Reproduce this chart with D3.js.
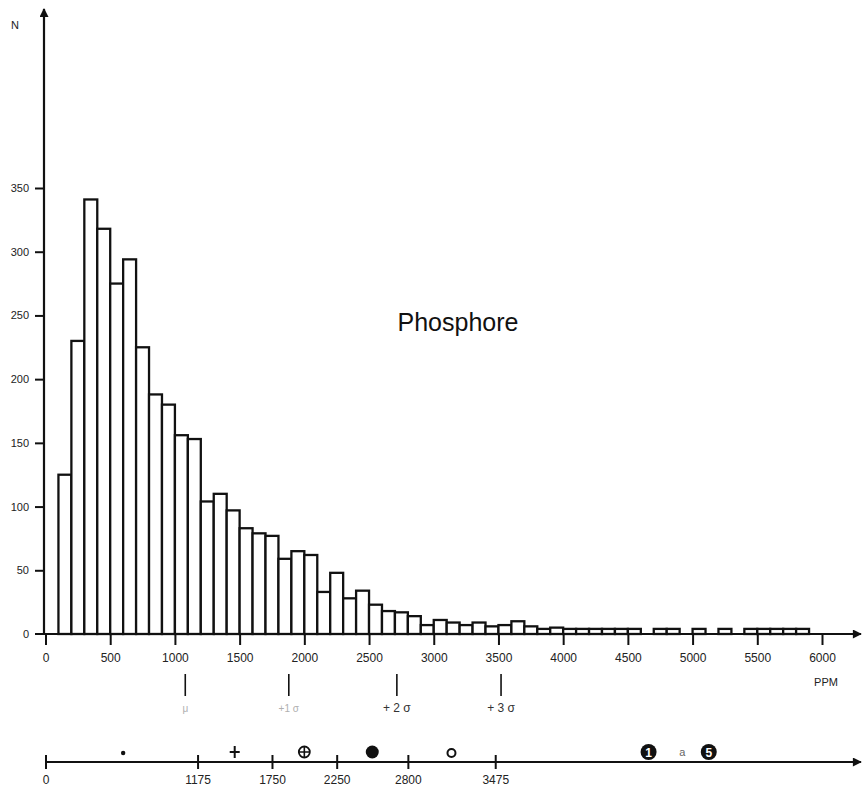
<!DOCTYPE html>
<html><head><meta charset="utf-8">
<script src="https://cdn.jsdelivr.net/npm/d3@7"></script>
<style>body{margin:0;background:#fff}svg{display:block}text{font-family:"Liberation Sans",Arial,sans-serif}</style>
</head><body><svg id="c" width="862" height="787"></svg>
<script>
// bins of 100 ppm: start of each bin
const binStarts = [100,200,300,400,500,600,700,800,900,1000,1100,1200,1300,1400,1500,1600,1700,1800,1900,2000,2100,2200,2300,2400,2500,2600,2700,2800,2900,3000,3100,3200,3300,3400,3500,3600,3700,3800,3900,4000,4100,4200,4300,4400,4500,4600,4700,4800,4900,5000,5100,5200,5300,5400,5500,5600,5700,5800];
const counts = [125,230,341,318,275,294,225,188,180,156,153,104,110,97,83,79,77,59,65,62,33,48,28,34,23,18,17,14,7,11,9,7,9,6,7,10,6,4,5,4,4,4,4,4,4,0,4,4,0,4,0,4,0,4,4,4,4,4];
const binWidth = 100;
const xTicks = [0,500,1000,1500,2000,2500,3000,3500,4000,4500,5000,5500,6000];
const yTicks = [0,50,100,150,200,250,300,350];
const sigmaValues = [1080,1880,2715,3520];
const sigmaLabels = ["μ","+1 σ","+ 2 σ","+ 3 σ"];
const classTicks = [0,1175,1750,2250,2800,3475];
const classSymbols = [
  {v:600,type:"dot"},{v:1462,type:"plus"},{v:2000,type:"oplus"},{v:2525,type:"disc"},
  {v:3137,type:"ring"},{v:4660,type:"num",t:"1"},{v:4920,type:"a"},{v:5125,type:"num",t:"5"}];

const svg = d3.select("#c");
const ink = "#111";
const x = d3.scaleLinear().domain([0,6000]).range([45.5,822]);
const y = d3.scaleLinear().domain([0,350]).range([634,188]);

// bars
const bars = binStarts.map((s,i)=>({s, n:counts[i]})).filter(d=>d.n>0);
svg.append("g").selectAll("rect").data(bars).join("rect")
  .attr("x",d=>x(d.s)).attr("width",d=>x(d.s+binWidth)-x(d.s))
  .attr("y",d=>y(d.n)).attr("height",d=>y(0)-y(d.n))
  .attr("fill","#fff").attr("stroke",ink).attr("stroke-width",2.3);

// arrow marker
const defs = svg.append("defs");
defs.append("marker").attr("id","arr2").attr("viewBox","0 0 10 10").attr("refX",9).attr("refY",5)
  .attr("markerWidth",12).attr("markerHeight",9).attr("markerUnits","userSpaceOnUse").attr("orient","auto")
  .append("path").attr("d","M0,0L10,5L0,10Z").attr("fill",ink);

// x axis
const gx = svg.append("g").attr("transform",`translate(0,${y(0)})`)
  .call(d3.axisBottom(x).tickValues(xTicks).tickSize(11).tickPadding(8).tickFormat(d3.format("d")));
gx.select(".domain").remove();
gx.selectAll(".tick line").attr("stroke",ink).attr("stroke-width",2);
gx.selectAll(".tick text").attr("fill","#222").attr("font-size",12).attr("font-family","Liberation Sans, Arial, sans-serif");
svg.append("line").attr("x1",35).attr("x2",861).attr("y1",y(0)).attr("y2",y(0))
  .attr("stroke",ink).attr("stroke-width",2.2).attr("marker-end","url(#arr2)");

// y axis
const gy = svg.append("g").attr("transform",`translate(44,0)`)
  .call(d3.axisLeft(y).tickValues(yTicks).tickSize(9).tickPadding(6));
gy.select(".domain").remove();
gy.selectAll(".tick line").attr("stroke",ink).attr("stroke-width",2);
gy.selectAll(".tick text").attr("fill","#222").attr("font-size",11).attr("font-family","Liberation Sans, Arial, sans-serif");
gy.selectAll(".tick").filter(d=>d===0).select("line").remove();
svg.append("line").attr("x1",44).attr("x2",44).attr("y1",y(0)+1).attr("y2",9)
  .attr("stroke",ink).attr("stroke-width",2.2).attr("marker-end","url(#arr2)");
svg.append("text").attr("x",15).attr("y",29).attr("font-size",11).attr("fill","#222").attr("text-anchor","middle").text("N");

// title
svg.append("text").attr("x",458).attr("y",331).attr("text-anchor","middle").attr("font-size",25).attr("fill","#111").text("Phosphore");
svg.append("text").attr("x",826).attr("y",686).attr("text-anchor","middle").attr("font-size",11).attr("fill","#222").text("PPM");

// sigma markers
const gs = svg.append("g");
gs.selectAll("line").data(sigmaValues).join("line")
  .attr("x1",d=>x(d)).attr("x2",d=>x(d)).attr("y1",674).attr("y2",696)
  .attr("stroke",ink).attr("stroke-width",1.6);
gs.selectAll("text").data(sigmaLabels).join("text")
  .attr("x",(d,i)=>x(sigmaValues[i])).attr("y",712).attr("text-anchor","middle")
  .attr("font-size",(d,i)=>i<2?10:12).attr("fill",(d,i)=>i<2?"#b0b0b0":"#333").text(d=>d);

// class axis
const yc = 762;
const gc = svg.append("g").attr("transform",`translate(0,${yc})`)
  .call(d3.axisBottom(x).tickValues(classTicks).tickSize(7).tickPadding(6).tickFormat(d3.format("d")));
gc.select(".domain").remove();
gc.selectAll(".tick line").attr("stroke",ink).attr("stroke-width",2).attr("y1",-7).attr("y2",7);
gc.selectAll(".tick text").attr("fill","#222").attr("font-size",12).attr("font-family","Liberation Sans, Arial, sans-serif");
svg.append("line").attr("x1",x(0)).attr("x2",861).attr("y1",yc).attr("y2",yc)
  .attr("stroke",ink).attr("stroke-width",2.2).attr("marker-end","url(#arr2)");

// class symbols
const sy = 752;
const gsym = svg.append("g");
classSymbols.forEach(s=>{
  const cx = x(s.v);
  if(s.type==="dot") gsym.append("circle").attr("cx",cx).attr("cy",sy+1).attr("r",2.2).attr("fill",ink);
  if(s.type==="plus"){ gsym.append("path").attr("d",`M${cx-5},${sy}H${cx+5}M${cx},${sy-6}V${sy+6}`).attr("stroke",ink).attr("stroke-width",2);}
  if(s.type==="oplus"){ gsym.append("circle").attr("cx",cx).attr("cy",sy).attr("r",5.5).attr("fill","none").attr("stroke",ink).attr("stroke-width",1.8);
    gsym.append("path").attr("d",`M${cx-5.5},${sy}H${cx+5.5}M${cx},${sy-5.5}V${sy+5.5}`).attr("stroke",ink).attr("stroke-width",1.6);}
  if(s.type==="disc") gsym.append("circle").attr("cx",cx).attr("cy",sy).attr("r",6.5).attr("fill",ink);
  if(s.type==="ring") gsym.append("circle").attr("cx",cx).attr("cy",sy+1).attr("r",4).attr("fill","none").attr("stroke",ink).attr("stroke-width",2);
  if(s.type==="num"){ gsym.append("circle").attr("cx",cx).attr("cy",sy).attr("r",8).attr("fill",ink);
    gsym.append("text").attr("x",cx).attr("y",sy+4.5).attr("text-anchor","middle").attr("font-size",12).attr("font-weight","bold").attr("fill","#fff").text(s.t);}
  if(s.type==="a") gsym.append("text").attr("x",cx).attr("y",sy+4).attr("text-anchor","middle").attr("font-size",11).attr("fill","#666").text("a");
});
</script></body></html>
